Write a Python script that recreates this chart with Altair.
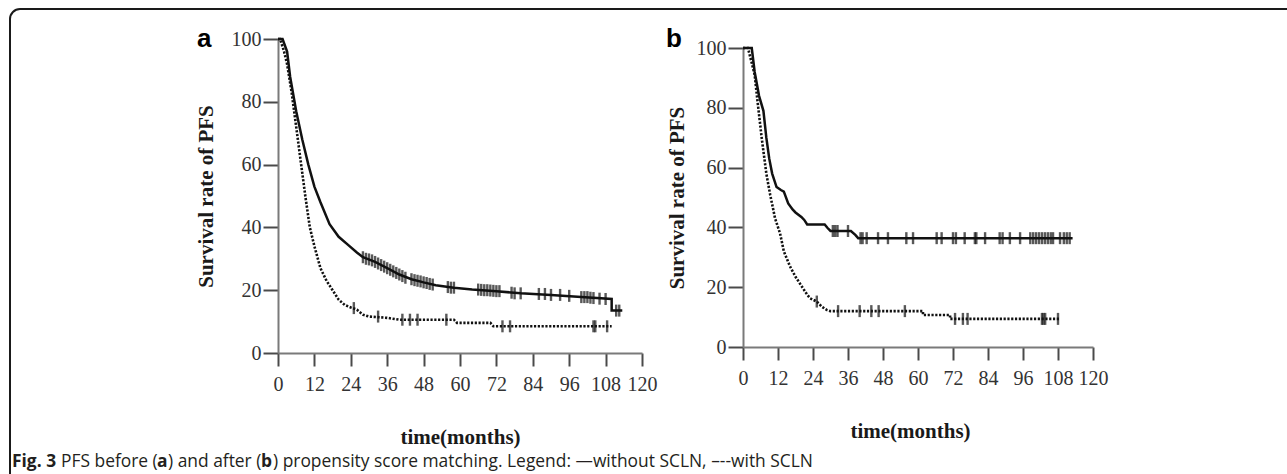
import altair as alt
import pandas as pd

X_TICKS = [0, 12, 24, 36, 48, 60, 72, 84, 96, 108, 120]
Y_TICKS = [0, 20, 40, 60, 80, 100]

# ---------- Panel a (before matching) ----------
a_solid_t = [0, 1.5, 3, 4, 6, 8, 10, 12, 14, 17, 20, 23, 26, 28, 32, 36, 40, 44, 48, 52, 58, 64, 72, 80, 90, 100, 110, 110, 113.5]
a_solid_s = [100, 100, 96, 88, 77, 68, 60, 53, 48, 41, 37, 34.5, 32, 30.5, 29, 27, 25, 23.5, 22.5, 21.6, 20.8, 20.2, 19.7, 19, 18.5, 17.8, 17.2, 13.5, 13.5]
a_dot_t = [0, 0.7, 2, 3, 4.5, 6, 7.5, 9, 10.5, 12, 14, 16, 18, 20, 22, 24, 26, 28, 30, 36, 40, 58, 59, 70, 71, 110]
a_dot_s = [100, 100, 96, 92, 83, 72, 61, 50, 40, 34, 27, 23, 20, 17, 15.3, 14.5, 13.8, 12.2, 11.6, 11.2, 10.6, 10.6, 9.6, 9.6, 8.5, 8.5]
a_solid_cens_t = [28, 29, 30, 31, 32, 33, 34, 35, 36, 37, 38, 39, 40, 41, 42, 44, 45, 46, 47, 48, 49, 50, 51,
                  56, 57, 58, 66, 67, 68, 69, 70, 71, 72, 73, 77, 78, 80, 86, 88, 90, 93, 96,
                  100, 101, 102, 103, 104, 106, 108, 111.5, 112.5]
a_solid_cens_s = [30.5, 30, 29.8, 29.5, 29, 28.5, 28, 27.5, 27, 26.5, 26, 25.5, 25, 24.5, 24, 23.5, 23.2, 23, 22.8, 22.5, 22.3, 22, 21.8,
                  21, 20.8, 20.8, 20.2, 20.1, 20, 20, 19.9, 19.8, 19.7, 19.7, 19.2, 19, 19, 18.8, 18.8, 18.5, 18.5, 18.2,
                  17.8, 17.8, 17.8, 17.6, 17.5, 17.3, 17.2, 13.5, 13.5]
a_dot_cens_t = [25, 33, 41, 43.5, 46, 55.5, 74, 76.5, 104, 104.6, 108.5]
a_dot_cens_s = [14.3, 11.6, 10.6, 10.6, 10.6, 10.6, 8.5, 8.5, 8.5, 8.5, 8.5]

# ---------- Panel b (after matching) ----------
b_solid_t = [0, 3, 4, 5.5, 7, 8, 9, 10, 11.5, 13, 14, 15.5, 17, 18, 20, 21, 22, 28, 29, 30, 37, 38.5, 39.5, 113]
b_solid_s = [100, 100, 92, 84, 79, 70, 63, 58, 53.5, 52.5, 52, 48, 46, 45, 43.5, 42.5, 41, 41, 39.8, 38.8, 38.8, 37.5, 36.4, 36.4]
b_dot_t = [0, 1.7, 3, 4, 5, 6.4, 8, 9.3, 11, 12.7, 14, 16.1, 18, 20, 22, 23, 25.3, 27, 28.7, 30, 61.7, 61.7, 71, 71, 108.7]
b_dot_s = [100, 100, 95, 91, 82, 70, 58, 51, 43, 38, 32, 27, 23.5, 20.5, 17.5, 16.3, 15.2, 13.5, 12.4, 12, 12, 10.7, 10.7, 9.4, 9.4]
b_solid_cens_t = [30.8, 31.6, 32.4, 36, 40.3, 41, 42.4, 46.3, 49.7, 56, 58.3, 66.4, 68.1, 72, 73, 76, 79.5, 80, 83,
                  88, 89, 91.5, 95, 98.5, 99.5, 100.5, 101.5, 102.5, 103.5, 104.5, 105.5, 106.3, 108.7, 110, 111, 112]
b_solid_cens_s = [38.8, 38.8, 38.8, 38.8] + [36.4] * 32
b_dot_cens_t = [25.3, 32.6, 40, 44, 46.5, 55.5, 72.7, 75.4, 77, 102.5, 103, 103.6, 108]
b_dot_cens_s = [15.2, 12, 12, 12, 12, 12, 9.4, 9.4, 9.4, 9.4, 9.4, 9.4, 9.4]

CAPTION_BOLD = ["Fig. 3", "a", "b"]
CAPTION_PLAIN = ["PFS before (", ") and after (", ") propensity score matching. Legend: \u2014without SCLN, \u2013--with SCLN"]

SERIF = "Liberation Serif"
SANS = "Open Sans"
INK = "#111111"


def table(t, s):
    return pd.DataFrame({"t": t, "s": s, "i": list(range(len(t)))})


def panel(solid_t, solid_s, dot_t, dot_s, cs_t, cs_s, cd_t, cd_s, xscale, yscale, xaxis, yaxis):
    def enc(ch):
        return ch.encode(
            x=alt.X("t:Q", scale=xscale, axis=xaxis),
            y=alt.Y("s:Q", scale=yscale, axis=yaxis),
        )

    solid = enc(alt.Chart(table(solid_t, solid_s)).mark_line(color=INK, strokeWidth=2.5)).encode(order="i:Q")
    dotted = enc(alt.Chart(table(dot_t, dot_s)).mark_line(color=INK, strokeWidth=2.6, strokeDash=[2.2, 1.6])).encode(order="i:Q")
    cens_s = enc(alt.Chart(table(cs_t, cs_s)).mark_tick(orient="vertical", size=12, thickness=2.4, color=INK))
    cens_d = enc(alt.Chart(table(cd_t, cd_s)).mark_tick(orient="vertical", size=12, thickness=2.4, color=INK))
    return alt.layer(solid, dotted, cens_s, cens_d)


def x_axis(offset, title_x, title_y):
    return alt.Axis(values=X_TICKS, orient="bottom", offset=offset, title="time(months)",
                    titleX=title_x, titleY=title_y, titleBaseline="alphabetic", titleAlign="center",
                    tickSize=13, labelPadding=8)


def y_axis(offset, title_x, title_y):
    return alt.Axis(values=Y_TICKS, orient="left", offset=offset, title="Survival rate of PFS",
                    titleX=title_x, titleY=title_y, titleAngle=270, titleBaseline="middle", titleAlign="center",
                    tickSize=15, labelPadding=2)


panel_a = panel(
    a_solid_t, a_solid_s, a_dot_t, a_dot_s, a_solid_cens_t, a_solid_cens_s, a_dot_cens_t, a_dot_cens_s,
    alt.Scale(domain=[0, 120], nice=False),
    alt.Scale(domain=[0, 100], nice=False),
    x_axis(0, 182, 90),
    y_axis(0, -72, 157),
)

panel_b = panel(
    b_solid_t, b_solid_s, b_dot_t, b_dot_s, b_solid_cens_t, b_solid_cens_s, b_dot_cens_t, b_dot_cens_s,
    alt.Scale(domain=[0, 120], nice=False, range=[465, 815]),
    alt.Scale(domain=[0, 100], nice=False, range=[308, 9]),
    x_axis(-6, 632, 90),
    y_axis(-465, -66, 158.5),
)

one = pd.DataFrame({"v": [0]})

frame = alt.Chart(one).mark_rect(filled=False, stroke="#1a1a1a", strokeWidth=2, cornerRadius=10).encode(
    x=alt.value(-268), x2=alt.value(1100), y=alt.value(-30), y2=alt.value(460)
)

label_a = alt.Chart(one).mark_text(text="a", font="Liberation Sans", fontWeight="bold", fontSize=26,
                                   align="left", baseline="alphabetic", color="#000").encode(
    x=alt.value(-81), y=alt.value(8))
label_b = alt.Chart(one).mark_text(text="b", font="Liberation Sans", fontWeight="bold", fontSize=26,
                                   align="left", baseline="alphabetic", color="#000").encode(
    x=alt.value(388), y=alt.value(8))


def cap(text, x, bold):
    return alt.Chart(one).mark_text(text=text, font=SANS, fontSize=17.4, fontWeight="bold" if bold else "normal",
                                    align="left", baseline="alphabetic", color="#231f20").encode(
        x=alt.value(x), y=alt.value(428))


caption = [
    cap(CAPTION_BOLD[0], -266, True),
    cap(CAPTION_PLAIN[0], -217, False),
    cap(CAPTION_BOLD[1], -121, True),
    cap(CAPTION_PLAIN[1], -110, False),
    cap(CAPTION_BOLD[2], -17, True),
    cap(CAPTION_PLAIN[2], -5, False),
]

chart = alt.layer(frame, panel_a, panel_b, label_a, label_b, *caption).resolve_scale(
    x="independent", y="independent"
).resolve_axis(
    x="independent", y="independent"
).properties(
    width=364, height=314,
    autosize=alt.AutoSizeParams(type="none"),
    padding={"left": 278, "top": 39, "right": 645, "bottom": 121},
    background="white",
).configure_view(
    stroke="transparent"
).configure_axis(
    grid=False, domainColor="#7a7a7a", domainWidth=2, tickColor="#4a4a4a", tickWidth=2,
    labelFont=SERIF, labelFontSize=20, labelColor="#333333", labelFlush=False, labelOverlap=False,
    titleFont=SERIF, titleFontSize=21, titleFontWeight="bold", titleColor="#1a1a1a",
)

chart.save("out.html", embed_options={"renderer": "svg", "actions": False})
